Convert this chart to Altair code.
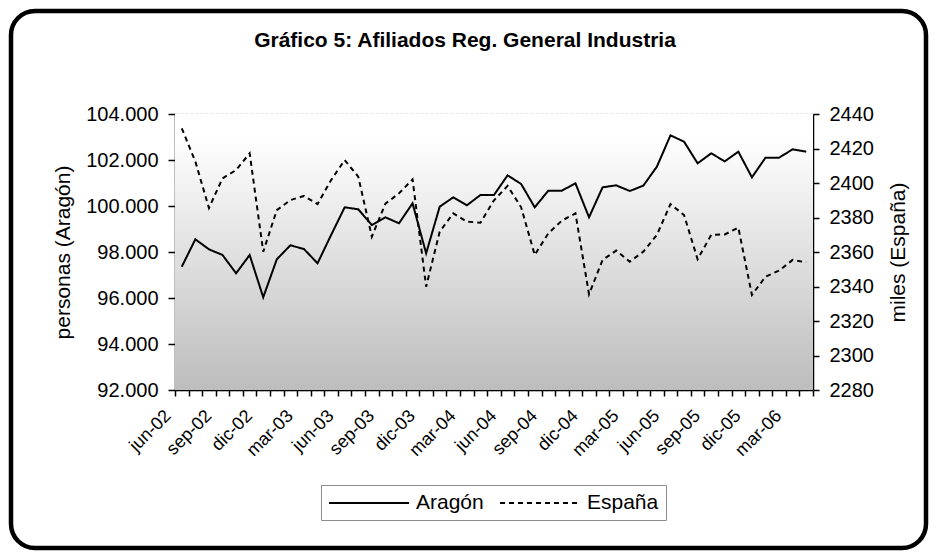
import altair as alt
import pandas as pd

meses = ["jun-02", "jul-02", "ago-02", "sep-02", "oct-02", "nov-02", "dic-02",
         "ene-03", "feb-03", "mar-03", "abr-03", "may-03", "jun-03", "jul-03", "ago-03", "sep-03", "oct-03", "nov-03", "dic-03",
         "ene-04", "feb-04", "mar-04", "abr-04", "may-04", "jun-04", "jul-04", "ago-04", "sep-04", "oct-04", "nov-04", "dic-04",
         "ene-05", "feb-05", "mar-05", "abr-05", "may-05", "jun-05", "jul-05", "ago-05", "sep-05", "oct-05", "nov-05", "dic-05",
         "ene-06", "feb-06", "mar-06", "abr-06"]

aragon = [97361, 98552, 98117, 97870, 97074, 97870, 96030, 97683, 98291, 98130,
          97509, 98739, 99943, 99857, 99174, 99508, 99248, 100116, 97942, 99971,
          100377, 100029, 100478, 100478, 101333, 100957, 99943, 100667, 100667, 100986,
          99508, 100812, 100899, 100652, 100884, 101710, 103072, 102797, 101855, 102290,
          101942, 102362, 101246, 102101, 102101, 102464, 102362]

espana = [2431.7, 2412.4, 2385.5, 2402.7, 2407.5, 2417.2, 2360.2, 2384.3, 2390.1, 2392.5,
          2387.8, 2401.7, 2413.3, 2403.7, 2368.9, 2388.0, 2394.0, 2402.1, 2339.9, 2371.8,
          2382.4, 2377.6, 2377.0, 2390.0, 2398.3, 2385.9, 2358.3, 2370.8, 2378.2, 2382.4,
          2335.5, 2355.4, 2360.8, 2354.4, 2360.2, 2369.9, 2387.8, 2381.4, 2355.8, 2369.9,
          2370.2, 2374.1, 2335.1, 2345.7, 2349.2, 2355.4, 2354.0]

series = ["Aragón", "España"]
ticks_izq = [92000, 94000, 96000, 98000, 100000, 102000, 104000]
ticks_der = [2280, 2300, 2320, 2340, 2360, 2380, 2400, 2420, 2440]
titulo = "Gráfico 5: Afiliados Reg. General Industria"

df_ar = pd.DataFrame({"mes": meses, "valor": aragon, "serie": series[0]})
df_es = pd.DataFrame({"mes": meses, "valor": espana, "serie": series[1]})

FONT = "Liberation Sans"
W, H = 638, 276

x_enc = alt.X(
    "mes:O", sort=meses, bandPosition=0.5,
    scale=alt.Scale(type="band", paddingInner=0, paddingOuter=0),
    axis=alt.Axis(
        title=None, tickBand="extent", labelAngle=315, labelAlign="right",
        labelBaseline="middle", labelOffset=-14, labelPadding=17,
        labelFontSize=18,
        labelExpr="test(/^(mar|jun|sep|dic)/, datum.value) ? datum.value : ''",
        labelOverlap=False, tickSize=6,
    ),
)

dash = alt.StrokeDash(
    "serie:N",
    scale=alt.Scale(domain=series, range=[[1, 0], [5, 4]]),
    legend=alt.Legend(title=None, orient="none", legendX=146, legendY=371,
                      direction="horizontal"),
)

fondo = alt.Chart(alt.Data(values=[{}])).mark_rect(
    fill=alt.LinearGradient(
        gradient="linear", x1=0, x2=0, y1=0, y2=1,
        stops=[alt.GradientStop(color="#ffffff", offset=0),
               alt.GradientStop(color="#ffffff", offset=0.08),
               alt.GradientStop(color="#bdbdbd", offset=1)],
    )
).encode(x=alt.value(0), x2=alt.value(W), y=alt.value(0), y2=alt.value(H))

marco = alt.Chart(alt.Data(values=[{}])).mark_rect(
    fillOpacity=0, stroke="black", strokeWidth=4.5, cornerRadius=24
).encode(x=alt.value(-164), x2=alt.value(751), y=alt.value(-103), y2=alt.value(434))

cabecera = alt.Chart(alt.Data(values=[{"t": titulo}])).mark_text(
    font=FONT, fontSize=21, fontWeight="bold", color="black",
    align="center", baseline="middle"
).encode(text="t:N", x=alt.value(290), y=alt.value(-73))

l_ar = alt.Chart(df_ar).mark_line(color="black", strokeWidth=2).encode(
    x=x_enc,
    y=alt.Y("valor:Q",
            scale=alt.Scale(domain=[92000, 104000], nice=False, zero=False),
            axis=alt.Axis(values=ticks_izq, orient="left", title="personas (Aragón)",
                          labelExpr="replace(format(datum.value, ',.0f'), ',', '.')",
                          grid=True, gridColor="#a0a0a0", gridDash=[3, 2], gridWidth=1.5,
                          tickSize=7, labelPadding=10, titlePadding=12)),
    strokeDash=dash,
)

l_es = alt.Chart(df_es).mark_line(color="black", strokeWidth=2).encode(
    x=x_enc,
    y=alt.Y("valor:Q",
            scale=alt.Scale(domain=[2280, 2440], nice=False, zero=False),
            axis=alt.Axis(values=ticks_der, orient="right", title="miles (España)",
                          format="d", grid=False, tickSize=6, labelPadding=10,
                          titleAngle=270, titleBaseline="top", titlePadding=14)),
    strokeDash=dash,
)

chart = alt.layer(fondo, marco, cabecera, l_ar, l_es).resolve_scale(
    y="independent"
).properties(
    width=W, height=H,
    autosize=alt.AutoSizeParams(type="none"),
    padding={"left": 167, "top": 106, "right": 116, "bottom": 161},
).configure_view(stroke="transparent").configure_axis(
    labelFont=FONT, labelFontSize=20, labelColor="black",
    titleFont=FONT, titleFontSize=21, titleFontWeight="normal", titleColor="black",
    domainColor="black", domainWidth=1.5, tickColor="black", tickWidth=1.5,
).configure_legend(
    labelFont=FONT, labelFontSize=21, labelColor="black",
    symbolType="M-1,0H7", symbolSize=400, symbolStrokeWidth=2,
    symbolStrokeColor="black", strokeColor="#8c8c8c", fillColor="white",
    padding=7, columnPadding=12, labelOffset=66,
)

chart.save("out.html", embed_options={"renderer": "svg", "actions": False})
